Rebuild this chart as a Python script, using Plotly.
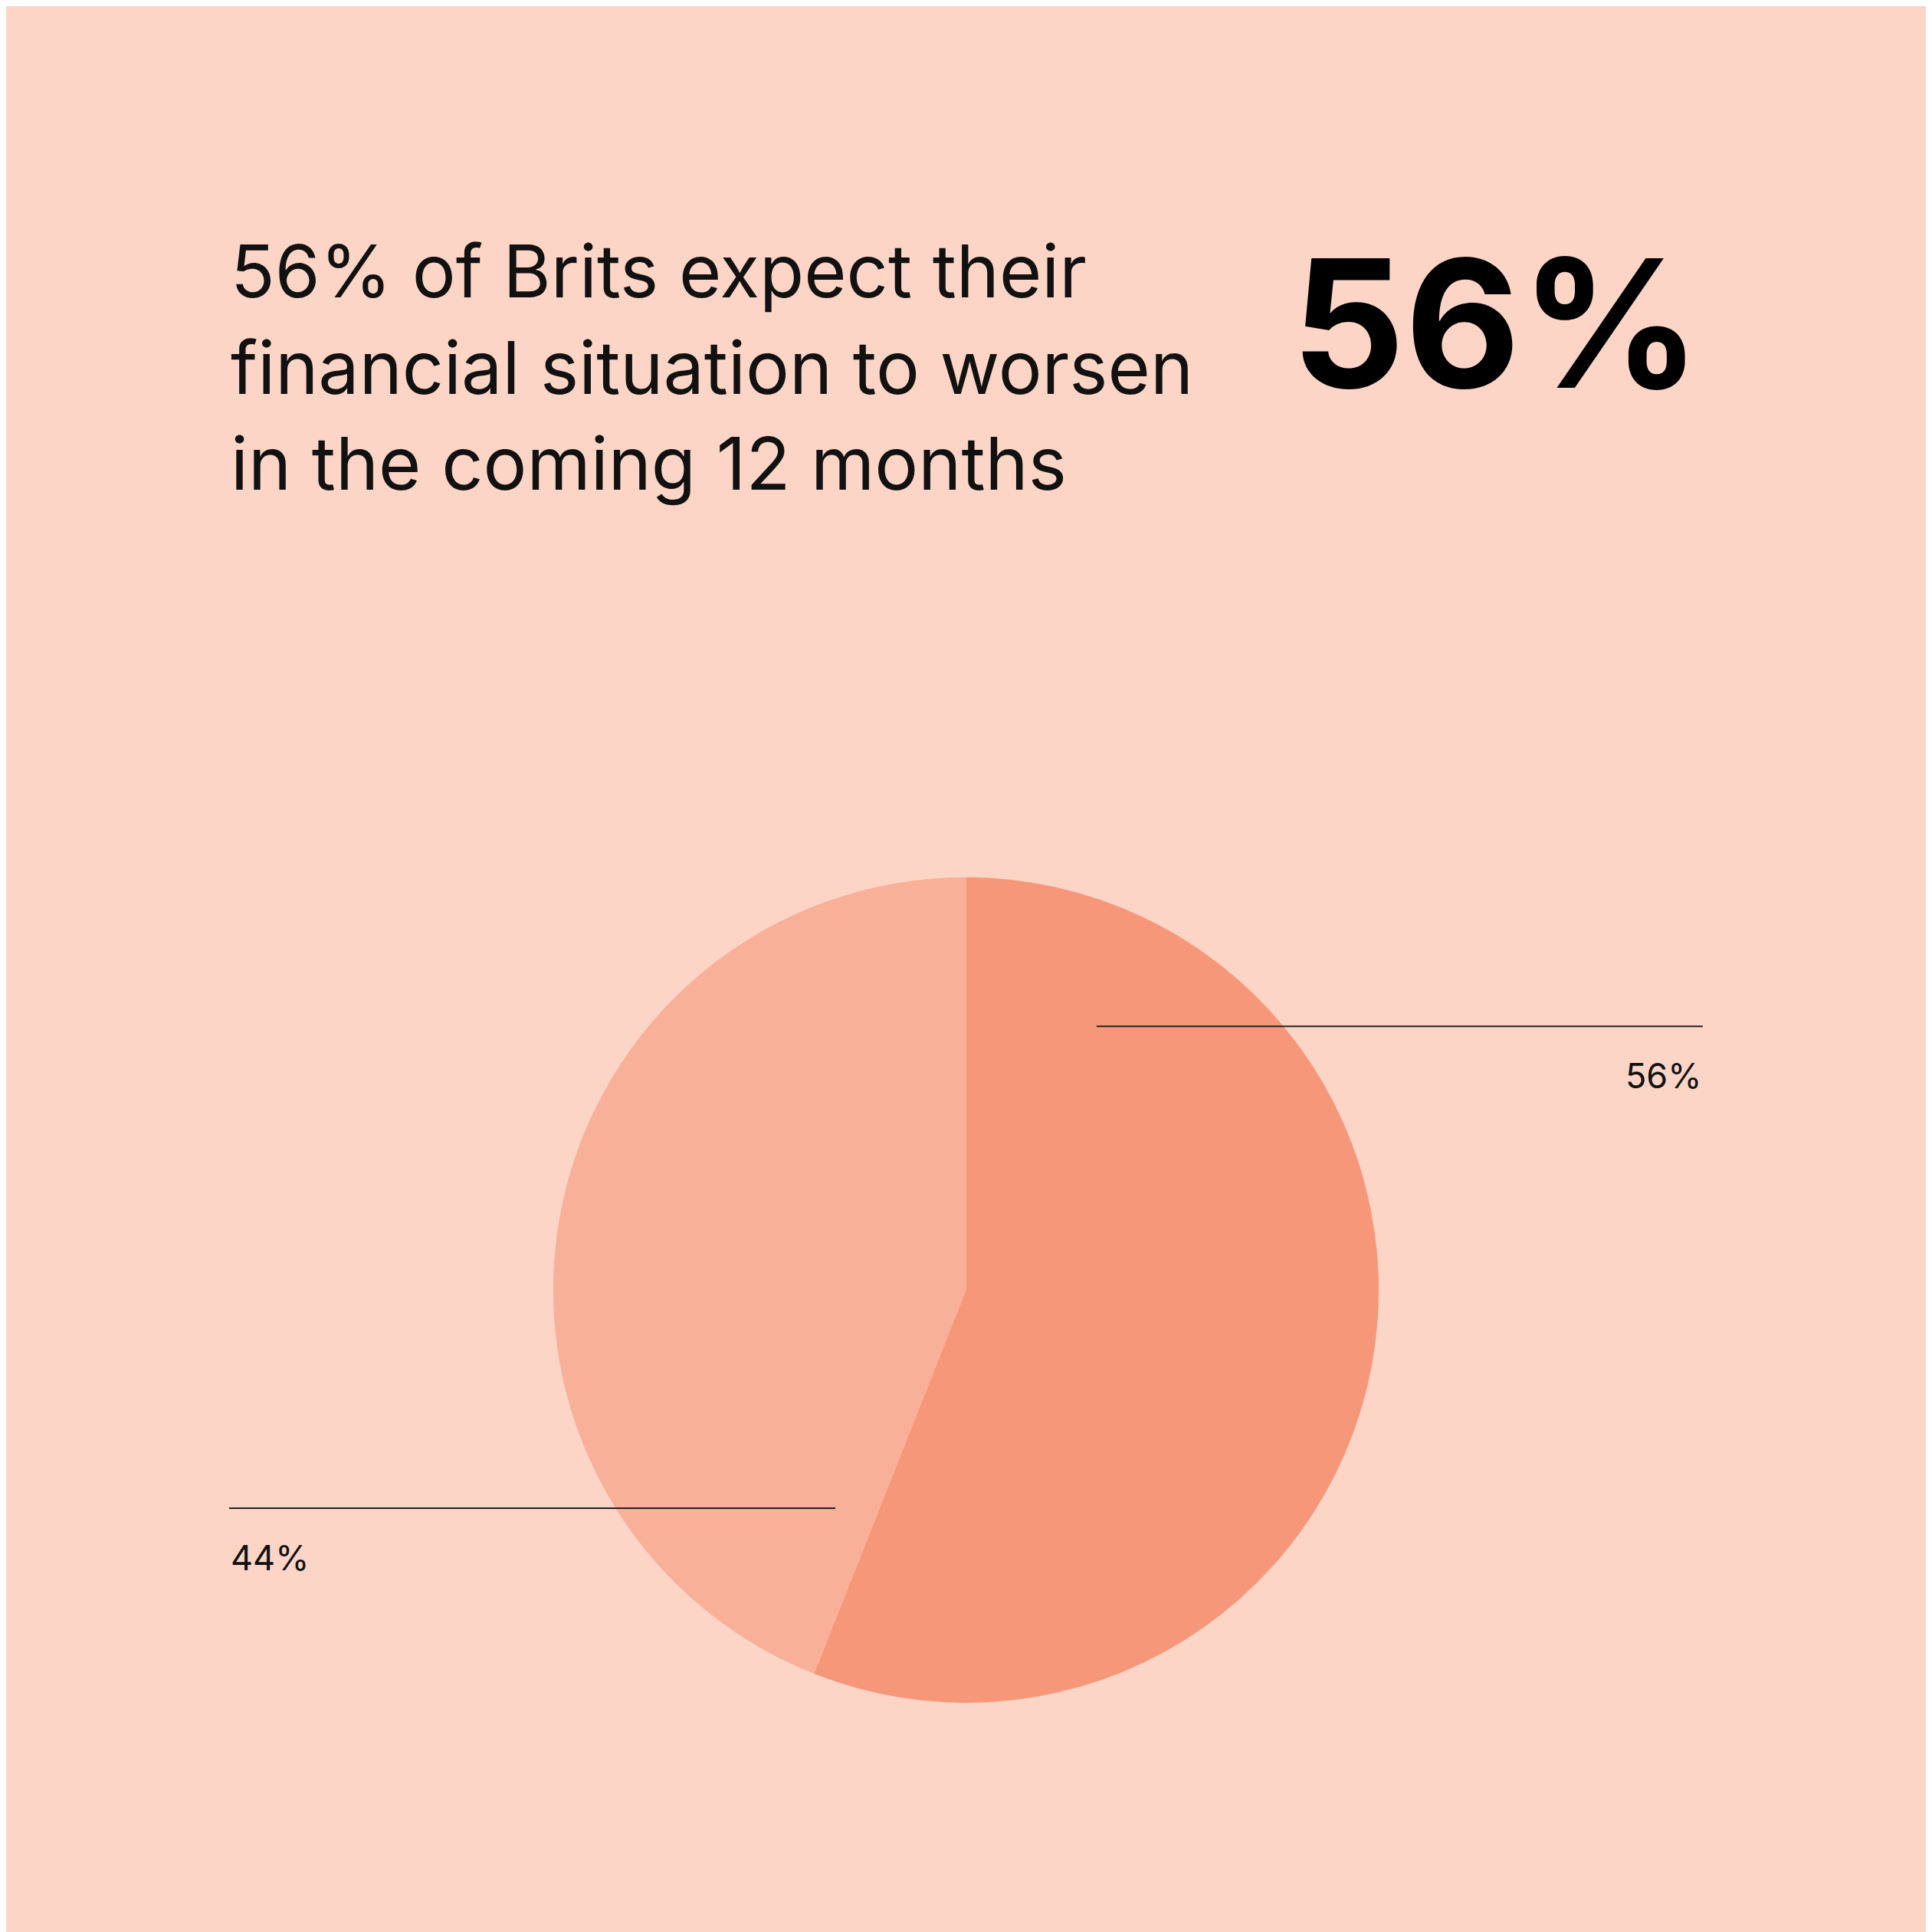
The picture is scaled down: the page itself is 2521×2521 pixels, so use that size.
import plotly.graph_objects as go

labels = ["Worsen", "Other"]
values = [56, 44]
colors = ["#F7977A", "#F9B098"]
label_texts = ["56%", "44%"]
title_lines = ["56% of Brits expect their", "financial situation to worsen", "in the coming 12 months"]
headline = "56%"

S = 1568.0
OFF = 5
def px(x): return (x - OFF) / S
def py(y): return 1 - (y - OFF) / S

fig = go.Figure(go.Pie(
    labels=labels, values=values, sort=False, direction="clockwise", rotation=0,
    marker=dict(colors=colors, line=dict(width=0)), textinfo="none", hoverinfo="skip",
    showlegend=False,
    domain=dict(x=[px(784-335), px(784+335)], y=[py(1047+335), py(1047-335)]),
))

ann = []
for i, t in enumerate(title_lines):
    ann.append(dict(x=px(186), y=py(220 + 78*i), text=t, showarrow=False, xref="paper", yref="paper",
                    xanchor="left", yanchor="middle", font=dict(family="Inter", size=95, color="#111")))
ann.append(dict(x=px(1382), y=py(262), text="<b>"+headline+"</b>", showarrow=False, xref="paper", yref="paper",
                xanchor="right", yanchor="middle", font=dict(family="Inter", size=232, color="#000")))
ann.append(dict(x=px(1382), y=py(873), text=label_texts[0], showarrow=False, xref="paper", yref="paper",
                xanchor="right", yanchor="middle", font=dict(family="Inter", size=45, color="#111")))
ann.append(dict(x=px(186), y=py(1264), text=label_texts[1], showarrow=False, xref="paper", yref="paper",
                xanchor="left", yanchor="middle", font=dict(family="Inter", size=45, color="#111")))

shapes = [
    dict(type="line", xref="paper", yref="paper", x0=px(890), x1=px(1382), y0=py(833), y1=py(833),
         line=dict(color="#222", width=2)),
    dict(type="line", xref="paper", yref="paper", x0=px(186), x1=px(678), y0=py(1224), y1=py(1224),
         line=dict(color="#222", width=2)),
]

fig.update_layout(width=2521, height=2521, margin=dict(l=0, r=0, t=0, b=0),
                  paper_bgcolor="#FCD5C7", plot_bgcolor="#FCD5C7",
                  annotations=ann, shapes=shapes)
fig.write_html("out.html")
